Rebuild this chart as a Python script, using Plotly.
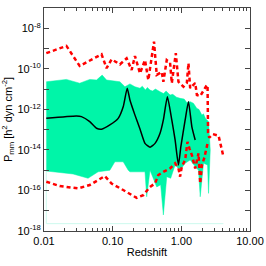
import plotly.graph_objects as go

# ---- data ----
red_hi_z = [0.0108, 0.0212, 0.0331, 0.0689, 0.0815, 0.0964, 0.1274, 0.1596, 0.1889, 0.2112,
            0.25, 0.2956, 0.3304, 0.40, 0.4383, 0.5186, 0.5473, 0.6135, 0.6857, 0.7261,
            0.831, 0.9078, 1.074, 1.203, 1.270, 1.345, 1.592, 1.686, 1.884, 2.105,
            2.359, 2.409, 2.45, 2.55, 2.888, 3.486, 4.127]
red_hi_p = [5.9e-10, 1.35e-9, 1.38e-10, 5.2e-10, 1.07e-10, 2.95e-10, 1.66e-10, 3.3e-10, 8.7e-11, 4.3e-10,
            6.0e-11, 2.7e-10, 2.8e-11, 2.2e-9, 5.0e-11, 7.0e-11, 2.3e-11, 2.7e-10, 2.0e-10, 1.95e-11,
            5.9e-10, 2.3e-11, 1.3e-11, 2.0e-11, 1.9e-10, 1.1e-11, 2.0e-11, 5.1e-12, 4.5e-12, 8.0e-12,
            1.6e-11, 1.5e-11, 7.0e-14, 4.0e-14, 6.0e-14, 5.0e-14, 4.3e-15]

red_lo_z = [0.0108, 0.0169, 0.0313, 0.0464, 0.0769, 0.0964, 0.1424, 0.2236, 0.2793, 0.35,
            0.414, 0.4626, 0.5473, 0.6857, 0.8117, 0.9078, 0.9594, 1.016, 1.137, 1.228,
            1.313, 1.424, 1.592, 1.78, 1.884, 1.994, 2.155, 2.409]
red_lo_p = [2.7e-16, 1.66e-16, 1.26e-16, 1.86e-16, 5.1e-16, 2.2e-16, 1.05e-16, 4.3e-17, 5.9e-17, 1.5e-16,
            2.2e-16, 5.8e-16, 8.3e-16, 1.23e-15, 2.2e-15, 1.23e-15, 4.8e-16, 1.5e-15, 3.2e-15, 2.5e-14,
            1.2e-14, 5.6e-15, 1.23e-15, 6.8e-15, 2.2e-16, 1.8e-15, 3.9e-15, 2.1e-14]

band_hi_z = [0.0108, 0.0212, 0.0331, 0.0464, 0.0582, 0.0703, 0.0815, 0.1274, 0.1508, 0.1784,
             0.2112, 0.25, 0.27, 0.30, 0.32, 0.35, 0.38, 0.42, 0.4898, 0.55,
             0.60, 0.6857, 0.75, 0.85, 0.9594, 1.1, 1.2, 1.345, 1.5, 1.686,
             1.8, 1.994, 2.1, 2.25, 2.359, 2.49]
band_hi_p = [2.3e-11, 3.0e-11, 1.95e-11, 3.0e-11, 2.8e-11, 4.9e-11, 2.8e-11, 2.3e-11, 1.3e-11, 1.8e-11,
             1.3e-11, 1.1e-11, 1.4e-11, 9.0e-12, 1.2e-11, 8.9e-12, 8.0e-12, 1.0e-11, 7.4e-12, 6.0e-12,
             8.0e-12, 5.1e-12, 5.5e-12, 4.0e-12, 3.5e-12, 3.2e-12, 2.2e-12, 2.4e-12, 2.0e-12, 1.1e-12,
             1.0e-12, 5.2e-13, 6.0e-13, 3.5e-13, 3.0e-13, 2.5e-13]

band_lo_z = [2.636, 2.49, 2.41, 2.105, 1.884, 1.78, 1.592, 1.345, 1.137, 0.9594,
             0.8117, 0.70, 0.6135, 0.5473, 0.50, 0.4383, 0.35, 0.313, 0.2956, 0.1784,
             0.1686, 0.1424, 0.1077, 0.091, 0.0614, 0.0438, 0.0265, 0.0108]
band_lo_p = [1.0e-14, 7.2e-17, 1.8e-15, 2.2e-15, 4.9e-17, 1.0e-15, 1.5e-15, 3.2e-15, 2.2e-15, 1.0e-15,
             1.8e-15, 4.0e-16, 4.8e-16, 6.2e-18, 1.9e-16, 1.5e-16, 1.0e-15, 4.9e-17, 8.3e-16, 8.3e-16,
             1.0e-15, 2.6e-15, 2.6e-15, 1.0e-15, 8.3e-16, 4.0e-16, 6.5e-16, 9.1e-16]

black_z = [0.0108, 0.0296, 0.0351, 0.0464, 0.0582, 0.0689, 0.091, 0.1203, 0.1424, 0.1629,
           0.1784, 0.2112, 0.25, 0.2956, 0.35, 0.414, 0.4898, 0.5473, 0.6266, 0.7261,
           0.8117, 0.9078, 0.984, 1.137, 1.270, 1.424, 1.592]
black_p = [3.6e-13, 4.7e-13, 4.4e-13, 2.5e-13, 1.17e-13, 1.05e-13, 1.7e-13, 3.6e-13, 1.35e-12, 1.1e-11,
           2.9e-12, 5.2e-13, 1.07e-13, 2.1e-14, 1.35e-14, 2.1e-14, 6.6e-14, 3.0e-13, 4.2e-12, 3.0e-13,
           3.1e-14, 1.8e-15, 1.45e-14, 3.0e-13, 2.4e-12, 1.38e-13, 3.1e-14]

faint_z = [0.0108, 0.0108, 4.1]
faint_p = [9.1e-16, 2.3e-18, 2.3e-18]

x_tickvals = [0.01, 0.1, 1, 10]
x_ticktext = ["0.01", "0.10", "1.00", "10.00"]
x_minor = [m * d for d in (0.01, 0.1, 1) for m in range(2, 10)]
y_label_exps = [-18, -16, -14, -12, -10, -8]
y_minor_exps = [-17, -15, -13, -11, -9, -7]
y_tickvals = [10.0 ** e for e in y_label_exps]
y_ticktext = ["10<sup>%d</sup>" % e for e in y_label_exps]
y_minor = [10.0 ** e for e in y_minor_exps]

FONT = "Liberation Sans, Arial, sans-serif"
GREEN = "rgb(0,245,168)"

fig = go.Figure()
fig.add_trace(go.Scatter(x=faint_z, y=faint_p, mode="lines",
                         line=dict(color="rgb(205,250,238)", width=1), hoverinfo="skip"))
fig.add_trace(go.Scatter(x=band_hi_z + band_lo_z, y=band_hi_p + band_lo_p, mode="lines",
                         fill="toself", fillcolor=GREEN, line=dict(color=GREEN, width=0.5)))
fig.add_trace(go.Scatter(x=black_z, y=black_p, mode="lines",
                         line=dict(color="black", width=1.5, shape="spline", smoothing=0.5)))
fig.add_trace(go.Scatter(x=red_hi_z, y=red_hi_p, mode="lines",
                         line=dict(color="red", width=2.5, dash="4px,3px")))
fig.add_trace(go.Scatter(x=red_lo_z, y=red_lo_p, mode="lines",
                         line=dict(color="red", width=2.5, dash="4px,3px")))

axis_common = dict(showline=True, linecolor="#444", linewidth=1, mirror="allticks",
                   ticks="inside", tickcolor="#444", showgrid=False, zeroline=False,
                   automargin=False,
                   tickfont=dict(family=FONT, size=11, color="black"))

fig.update_layout(
    width=266, height=266,
    margin=dict(l=44, r=16, t=8, b=35),
    paper_bgcolor="white", plot_bgcolor="white",
    showlegend=False,
    font=dict(family=FONT, size=11, color="black"),
    xaxis=dict(type="log", range=[-2, 1], tickvals=x_tickvals, ticktext=x_ticktext, ticklen=5,
               minor=dict(tickvals=x_minor, ticks="inside", ticklen=3, tickcolor="#444"),
               title=dict(text="Redshift", font=dict(family=FONT, size=11), standoff=2),
               **axis_common),
    yaxis=dict(type="log", range=[-18, -7], tickvals=y_tickvals, ticktext=y_ticktext, ticklen=5,
               minor=dict(tickvals=y_minor, ticks="inside", ticklen=5, tickcolor="#444"),
               title=dict(text="P<sub>mm</sub> [h<sup>2</sup> dyn cm<sup>-2</sup>]",
                          font=dict(family=FONT, size=11), standoff=2),
               **axis_common),
)

fig.write_html("out.html", config={"displayModeBar": False},
               post_script="document.body.style.margin='0';")
